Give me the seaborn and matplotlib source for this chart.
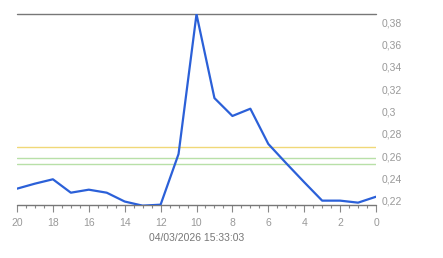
import matplotlib
matplotlib.use("Agg")
import matplotlib.pyplot as plt
import seaborn as sns
import pandas as pd
from matplotlib.ticker import MultipleLocator, FuncFormatter

x_vals = [20, 19, 18, 17, 16, 15, 14, 13, 12, 11, 10, 9, 8, 7, 6, 5, 4, 3, 2, 1, 0]
y_vals = [0.231, 0.2355, 0.2394, 0.2274, 0.2301, 0.2274, 0.2195, 0.2158, 0.2167, 0.262,
          0.387, 0.312, 0.296, 0.3025, 0.271, 0.2537, 0.2368, 0.2203, 0.2203, 0.2185, 0.2238]
ref_lines = [0.2685, 0.2582, 0.2531]
ref_colors = ["#f0d878", "#b8e0a8", "#b8e0a8"]
y_ticks = [0.22, 0.24, 0.26, 0.28, 0.30, 0.32, 0.34, 0.36, 0.38]
x_ticks = [20, 18, 16, 14, 12, 10, 8, 6, 4, 2, 0]
date_label = "04/03/2026 15:33:03"
y_min, y_max = 0.2164, 0.3872

df = pd.DataFrame({"x": x_vals, "y": y_vals})

sns.set_style("white")
plt.rcParams["font.family"] = ["Liberation Sans", "DejaVu Sans"]

fig = plt.figure(figsize=(4.43, 2.58), dpi=100)
ax = fig.add_axes([17/443, 53/258, (376-17)/443, (205-14)/258])

for v, c in zip(ref_lines, ref_colors):
    ax.axhline(v, color=c, lw=1.0, zorder=1)
ax.axhline(y_max, color="#777777", lw=1.0, zorder=1, clip_on=False)
ax.axhline(y_min, color="#777777", lw=1.0, zorder=1, clip_on=False)

sns.lineplot(data=df, x="x", y="y", ax=ax, color="#2b60d8", lw=1.6, zorder=3)

ax.set_xlim(20, 0)
ax.set_ylim(y_min, y_max)
for s in ax.spines.values():
    s.set_visible(False)

ax.yaxis.tick_right()
ax.set_yticks(y_ticks)
ax.yaxis.set_major_formatter(FuncFormatter(lambda v, p: ("%.2f" % v).rstrip("0").replace(".", ",")))
ax.tick_params(axis="y", length=0, pad=4, labelsize=7.5, labelcolor="#999999")

ax.set_xticks(x_ticks)
ax.xaxis.set_minor_locator(MultipleLocator(0.5))
ax.tick_params(axis="x", which="both", bottom=True, direction="out")
ax.tick_params(axis="x", which="major", length=5, width=0.8, color="#888888", pad=4,
               labelsize=7.5, labelcolor="#999999")
ax.tick_params(axis="x", which="minor", length=2, width=0.8, color="#888888")
ax.set_xlabel(date_label, fontsize=7.5, color="#777777", labelpad=4)
ax.set_ylabel("")
ax.grid(False)

fig.savefig("out.png", dpi=100)
